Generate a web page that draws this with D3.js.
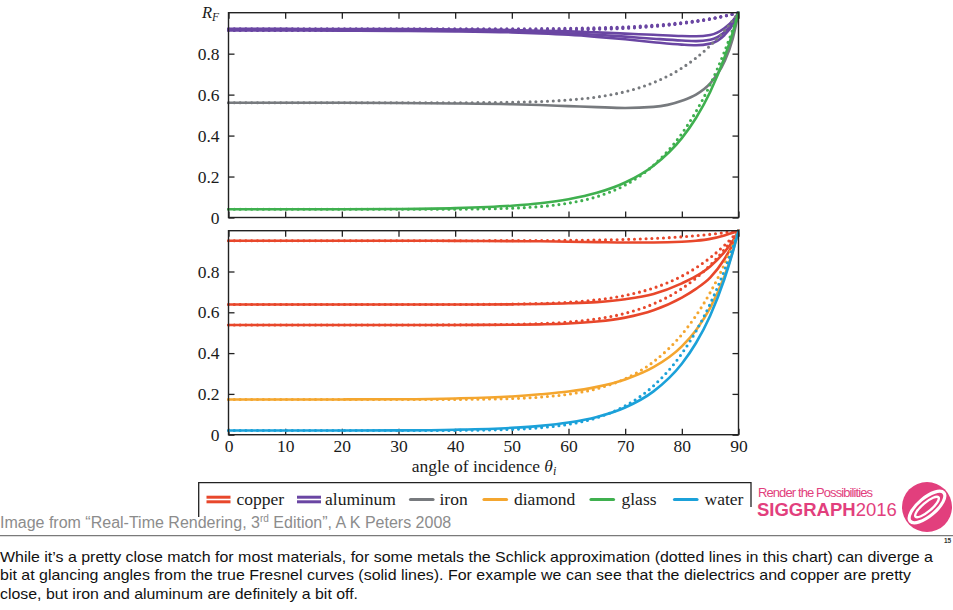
<!DOCTYPE html>
<html>
<head>
<meta charset="utf-8">
<script src="https://cdn.jsdelivr.net/npm/d3@7/dist/d3.min.js"></script>
<style>
  html, body { margin: 0; padding: 0; background: #fff; }
  svg { display: block; }
</style>
</head>
<body>
<svg id="chart" width="953" height="610"></svg>
<script>
// ---------- DATA ----------
const angles = [0, 10, 20, 30, 40, 50, 55, 60, 65, 70, 75, 80, 82.5, 85, 87.5, 89, 90];

// top panel: metals aluminum (3 channels), iron, and glass
const aluminumFresnelA = [0.913,0.913,0.912,0.911,0.909,0.904,0.899,0.892,0.882,0.870,0.856,0.844,0.841,0.849,0.890,0.942,1];
const aluminumFresnelB = [0.917,0.917,0.916,0.915,0.913,0.909,0.905,0.899,0.892,0.883,0.873,0.864,0.861,0.868,0.905,0.950,1];
const aluminumFresnelC = [0.921,0.921,0.920,0.920,0.918,0.915,0.912,0.909,0.904,0.898,0.892,0.886,0.885,0.891,0.924,0.962,1];
const aluminumSchlickA = [0.913,0.913,0.913,0.913,0.913,0.9135,0.9142,0.9157,0.9186,0.9237,0.9325,0.9465,0.9563,0.9681,0.9826,0.9927,1];
const aluminumSchlickB = [0.917,0.917,0.917,0.917,0.9171,0.9175,0.9182,0.9196,0.9223,0.9272,0.9356,0.949,0.9583,0.9696,0.9834,0.993,1];
const aluminumSchlickC = [0.921,0.921,0.921,0.921,0.9211,0.9215,0.9221,0.9235,0.9261,0.9307,0.9387,0.9514,0.9603,0.9711,0.9842,0.9933,1];
const ironFresnel  = [0.56,0.56,0.56,0.559,0.557,0.553,0.549,0.544,0.539,0.535,0.540,0.570,0.600,0.655,0.760,0.875,1];
const ironSchlick  = [0.56,0.56,0.56,0.56,0.5603,0.5626,0.5662,0.5738,0.5882,0.6143,0.6584,0.7295,0.7788,0.8388,0.9121,0.963,1];
const glassFresnel = [0.04,0.04,0.0403,0.0415,0.0457,0.0577,0.0697,0.0892,0.1205,0.171,0.2531,0.3878,0.4857,0.6127,0.7795,0.904,1];
const glassSchlick = [0.04,0.04,0.04,0.04,0.0407,0.0456,0.0535,0.07,0.1015,0.1585,0.2548,0.4098,0.5173,0.6484,0.8082,0.9192,1];

// bottom panel: copper (3 channels), diamond, water
const copperFresnelA = [0.951,0.951,0.951,0.951,0.950,0.949,0.948,0.946,0.944,0.942,0.942,0.946,0.951,0.960,0.977,0.990,1];
const copperFresnelB = [0.638,0.638,0.638,0.638,0.638,0.639,0.641,0.644,0.650,0.664,0.690,0.742,0.777,0.825,0.895,0.950,1];
const copperFresnelC = [0.538,0.538,0.538,0.538,0.538,0.539,0.541,0.545,0.555,0.574,0.610,0.672,0.715,0.770,0.860,0.935,1];
const copperSchlickA = [0.951,0.951,0.951,0.951,0.951,0.9513,0.9517,0.9525,0.9541,0.957,0.962,0.9699,0.9754,0.9821,0.9902,0.9959,1];
const copperSchlickB = [0.638,0.638,0.638,0.638,0.6383,0.6401,0.6431,0.6493,0.6612,0.6827,0.719,0.7774,0.818,0.8674,0.9277,0.9695,1];
const copperSchlickC = [0.538,0.538,0.538,0.538,0.5383,0.5407,0.5445,0.5524,0.5676,0.595,0.6414,0.716,0.7677,0.8308,0.9077,0.9611,1];
const diamondFresnel = [0.1724,0.1725,0.1729,0.1739,0.1777,0.1876,0.198,0.2116,0.2345,0.2709,0.3307,0.433,0.5125,0.6215,0.776,0.8997,1];
const diamondSchlick = [0.1724,0.1724,0.1724,0.1724,0.173,0.1772,0.1841,0.1983,0.2254,0.2745,0.3575,0.4912,0.5839,0.6968,0.8346,0.9303,1];
const waterFresnel   = [0.0204,0.0204,0.0206,0.0213,0.0245,0.0337,0.0434,0.0597,0.0871,0.1335,0.2124,0.348,0.4494,0.5834,0.762,0.896,1];
const waterSchlick   = [0.0204,0.0204,0.0204,0.0204,0.0211,0.0261,0.0342,0.0511,0.0832,0.1413,0.2395,0.3977,0.5075,0.6412,0.8043,0.9175,1];

const xTicks = [0,10,20,30,40,50,60,70,80,90];
const yTicks = [0,0.2,0.4,0.6,0.8];
const legendNames = ["copper","aluminum","iron","diamond","glass","water"];

const paragraph = [
  "While it\u2019s a pretty close match for most materials, for some metals the Schlick approximation (dotted lines in this chart) can diverge a",
  "bit at glancing angles from the true Fresnel curves (solid lines). For example we can see that the dielectrics and copper are pretty",
  "close, but iron and aluminum are definitely a bit off."
];

// ---------- STYLE ----------
const colors = {
  copper: "#e8472b", aluminum: "#6a46a3", iron: "#777a7e",
  diamond: "#f4a62f", glass: "#3fb04f", water: "#1ba1d9"
};
const serif = "'Liberation Serif','DejaVu Serif',serif";
const sans = "'Liberation Sans',Arial,sans-serif";
const pink = "#e23f7d";

const svg = d3.select("#chart");

const x = d3.scaleLinear().domain([0, 90]).range([228.5, 738.5]);
const yTop = d3.scaleLinear().domain([0, 1]).range([217.5, 12.7]);
const yBot = d3.scaleLinear().domain([0, 1]).range([434.7, 230.7]);

function drawPanel(y, series, showXLabels) {
  const g = svg.append("g");
  const fmt = d => d === 0 ? "0" : d3.format(".1f")(d);
  const addAxis = (axis, tx, ty) => {
    const a = g.append("g").attr("transform", `translate(${tx},${ty})`).call(axis);
    a.select(".domain").remove();
    a.selectAll("line").attr("stroke", "#222").attr("stroke-width", 1.3);
    a.selectAll("text").attr("font-family", serif).attr("font-size", 17.5).attr("fill", "#1a1a1a");
    return a;
  };
  addAxis(d3.axisLeft(y).tickValues(yTicks).tickSize(-6).tickPadding(9).tickFormat(fmt), x(0), 0);
  addAxis(d3.axisRight(y).tickValues(yTicks).tickSize(-6).tickFormat(""), x(90), 0);
  addAxis(d3.axisTop(x).tickValues(xTicks).tickSize(-6).tickFormat(""), 0, y(1));
  addAxis(d3.axisBottom(x).tickValues(xTicks).tickSize(-6).tickPadding(5)
      .tickFormat(showXLabels ? d3.format("d") : ""), 0, y(0));

  const line = d3.line().x((d, i) => x(angles[i])).y(d => y(d)).curve(d3.curveMonotoneX);
  series.forEach(s => {
    g.append("path")
      .attr("d", line(s.values))
      .attr("fill", "none")
      .attr("stroke", s.color)
      .attr("stroke-width", s.dotted ? 3.1 : 2.6)
      .attr("stroke-linecap", "round")
      .attr("stroke-dasharray", s.dotted ? "0 5.8" : null);
  });

  g.append("rect")
    .attr("x", x(0)).attr("y", y(1))
    .attr("width", x(90) - x(0)).attr("height", y(0) - y(1))
    .attr("fill", "none").attr("stroke", "#222").attr("stroke-width", 1.4);
  return g;
}

drawPanel(yTop, [
  { values: aluminumSchlickA, color: colors.aluminum, dotted: true },
  { values: aluminumSchlickB, color: colors.aluminum, dotted: true },
  { values: aluminumSchlickC, color: colors.aluminum, dotted: true },
  { values: aluminumFresnelA, color: colors.aluminum },
  { values: aluminumFresnelB, color: colors.aluminum },
  { values: aluminumFresnelC, color: colors.aluminum },
  { values: ironSchlick, color: colors.iron, dotted: true },
  { values: ironFresnel, color: colors.iron },
  { values: glassSchlick, color: colors.glass, dotted: true },
  { values: glassFresnel, color: colors.glass }
], false);

drawPanel(yBot, [
  { values: copperSchlickA, color: colors.copper, dotted: true },
  { values: copperSchlickB, color: colors.copper, dotted: true },
  { values: copperSchlickC, color: colors.copper, dotted: true },
  { values: copperFresnelA, color: colors.copper },
  { values: copperFresnelB, color: colors.copper },
  { values: copperFresnelC, color: colors.copper },
  { values: diamondSchlick, color: colors.diamond, dotted: true },
  { values: diamondFresnel, color: colors.diamond },
  { values: waterSchlick, color: colors.water, dotted: true },
  { values: waterFresnel, color: colors.water }
], true);

// R_F label
const rf = svg.append("text").attr("x", 202).attr("y", 18).attr("font-family", serif)
  .attr("font-size", 16.5).attr("font-style", "italic").attr("fill", "#1a1a1a");
rf.append("tspan").text("R");
rf.append("tspan").attr("font-size", 11.5).attr("dy", 3).text("F");

// x axis title
const xt = svg.append("text").attr("x", 484).attr("y", 472).attr("text-anchor", "middle")
  .attr("font-family", serif).attr("font-size", 17.5).attr("fill", "#1a1a1a");
xt.append("tspan").text("angle of incidence ");
xt.append("tspan").attr("font-style", "italic").text("\u03b8");
xt.append("tspan").attr("font-style", "italic").attr("font-size", 12).attr("dy", 3).text("i");

// legend frame (cut off at the bottom in the reference)
svg.append("path")
  .attr("d", "M198.7,517 V482.7 H751 V507")
  .attr("fill", "none").attr("stroke", "#222").attr("stroke-width", 1.3);

const legendPos = [
  { sw: 206.5, tx: 236.5, doubleLine: true },
  { sw: 297, tx: 325, doubleLine: true },
  { sw: 410.5, tx: 439.5 },
  { sw: 484, tx: 514 },
  { sw: 591, tx: 621.5 },
  { sw: 674.5, tx: 704.5 }
];
legendNames.forEach((name, i) => {
  const p = legendPos[i];
  const lg = svg.append("g");
  const offsets = p.doubleLine ? [-2.3, 2.3] : [0];
  offsets.forEach(o => {
    lg.append("line")
      .attr("x1", p.sw).attr("x2", p.sw + (p.doubleLine ? 24 : 22.5))
      .attr("y1", 499.5 + o).attr("y2", 499.5 + o)
      .attr("stroke", colors[name]).attr("stroke-width", p.doubleLine ? 3 : 3.2)
      .attr("stroke-linecap", p.doubleLine ? "butt" : "round");
  });
  lg.append("text").attr("x", p.tx).attr("y", 505)
    .attr("font-family", serif).attr("font-size", 17.5).attr("fill", "#1a1a1a").text(name);
});

// credit line
const cr = svg.append("text").attr("x", 0).attr("y", 527.5).attr("font-family", sans)
  .attr("font-size", 16).attr("fill", "#8c8c8c");
cr.append("tspan").text("Image from \u201cReal-Time Rendering, 3");
cr.append("tspan").attr("font-size", 10).attr("dy", -6).text("rd");
cr.append("tspan").attr("dy", 6).text(" Edition\u201d, A K Peters 2008");

// rule
svg.append("line").attr("x1", 0).attr("x2", 953).attr("y1", 535.7).attr("y2", 535.7)
  .attr("stroke", "#7a7a7a").attr("stroke-width", 1.2);

// SIGGRAPH branding
svg.append("text").attr("x", 758).attr("y", 497).attr("font-family", sans)
  .attr("font-size", 13).attr("fill", pink).attr("textLength", 115).text("Render the Possibilities");
const sg = svg.append("text").attr("x", 757).attr("y", 515.5).attr("font-family", sans)
  .attr("font-size", 18.5).attr("fill", pink);
sg.append("tspan").attr("font-weight", "bold").text("SIGGRAPH");
sg.append("tspan").text("2016");

const logo = svg.append("g").attr("transform", "translate(927,507)");
logo.append("circle").attr("r", 25).attr("fill", pink);
logo.append("ellipse").attr("rx", 22).attr("ry", 9).attr("transform", "rotate(-40)")
  .attr("fill", "none").attr("stroke", "#fff").attr("stroke-width", 3.2);
logo.append("ellipse").attr("rx", 15).attr("ry", 4.5).attr("transform", "rotate(-40)")
  .attr("fill", "none").attr("stroke", "#fff").attr("stroke-width", 2.4);

svg.append("text").attr("x", 944).attr("y", 543).attr("font-family", sans)
  .attr("font-size", 6.5).attr("font-weight", "bold").attr("fill", "#333").text("15");

// paragraph
const paraWidths = [933, 911, 358];
paragraph.forEach((t, i) => {
  svg.append("text").attr("x", 0).attr("y", 561.5 + i * 18.5)
    .attr("font-family", sans).attr("font-size", 15).attr("fill", "#111")
    .attr("textLength", paraWidths[i]).attr("lengthAdjust", "spacingAndGlyphs").text(t);
});
</script>
</body>
</html>
